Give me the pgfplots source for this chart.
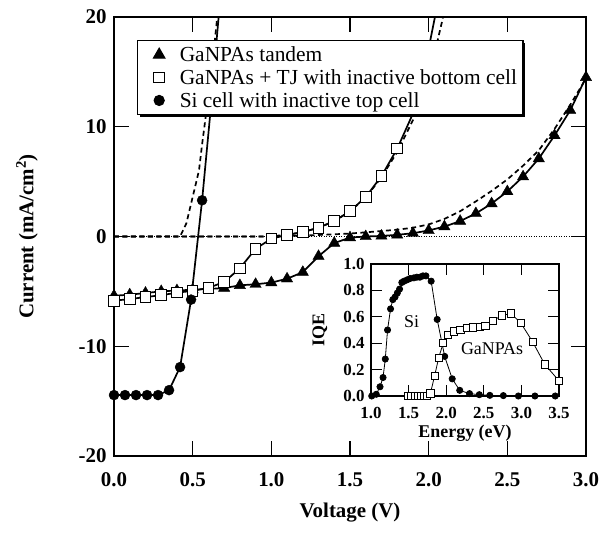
\documentclass[border=0pt]{standalone}
\usepackage{fontspec}
\setmainfont{Liberation Serif}
\usepackage{pgfplots}
\usepackage{pgfplotstable}
\pgfplotsset{compat=1.18}
\usetikzlibrary{shadows}

\pgfplotstableread{
V J
0.0 -5.40
0.1 -5.30
0.2 -5.15
0.3 -5.00
0.4 -4.92
0.5 -4.85
0.6 -4.78
0.7 -4.70
0.8 -4.45
0.9 -4.35
1.0 -4.20
1.1 -3.85
1.2 -3.25
1.3 -1.80
1.4 -0.60
1.5 -0.10
1.6 0.00
1.7 0.05
1.8 0.15
1.9 0.30
2.0 0.55
2.1 0.90
2.2 1.40
2.3 2.10
2.4 3.00
2.5 4.10
2.6 5.45
2.7 7.10
2.8 9.20
2.9 11.50
3.0 14.50
}\tandem

\pgfplotstableread{
V J
0.0 -5.85
0.1 -5.70
0.2 -5.52
0.3 -5.35
0.4 -5.12
0.5 -4.95
0.6 -4.68
0.7 -4.15
0.8 -2.90
0.9 -1.12
1.0 -0.20
1.1 0.15
1.2 0.40
1.3 0.80
1.4 1.40
1.5 2.30
1.6 3.60
1.7 5.50
1.8 8.00
}\topcell

\pgfplotstableread{
V J
0.00 -14.45
0.07 -14.45
0.14 -14.45
0.21 -14.45
0.28 -14.45
0.35 -14.00
0.42 -11.90
0.49 -5.75
0.56 3.30
}\sicell

\pgfplotstableread{
E Q
1.01 0.00
1.07 0.013
1.12 0.07
1.16 0.14
1.19 0.28
1.22 0.50
1.26 0.66
1.29 0.73
1.32 0.75
1.35 0.78
1.38 0.81
1.41 0.86
1.44 0.87
1.48 0.88
1.52 0.89
1.57 0.895
1.61 0.90
1.65 0.90
1.69 0.91
1.73 0.91
1.80 0.87
1.88 0.58
1.98 0.30
2.08 0.13
2.18 0.043
2.31 0.018
2.44 0.01
2.58 0.005
2.76 0.003
2.96 0.00
3.18 0.00
3.45 0.00
}\siqe

\pgfplotstableread{
E Q
1.49 0.00
1.53 0.00
1.58 0.00
1.62 0.00
1.66 0.00
1.70 0.00
1.74 0.00
1.79 0.02
1.845 0.15
1.90 0.29
1.96 0.40
2.02 0.46
2.10 0.49
2.19 0.50
2.27 0.515
2.36 0.52
2.45 0.525
2.52 0.53
2.62 0.57
2.74 0.61
2.86 0.625
2.99 0.555
3.15 0.41
3.31 0.24
3.50 0.115
}\ganpasqe

\begin{document}
\begin{tikzpicture}
\useasboundingbox (-114bp,-78bp) rectangle (492bp,456bp);
\begin{axis}[
  at={(0bp,0bp)}, anchor=south west,
  scale only axis, width=472bp, height=439bp,
  xmin=0, xmax=3, ymin=-20, ymax=20,
  xtick={0,0.5,1,1.5,2,2.5,3}, ytick={-20,-10,0,10,20},
  /pgf/number format/assume math mode=true,
  xticklabel={\pgfmathprintnumber[fixed,fixed zerofill,precision=1]{\tick}},
  tick align=inside, xtick pos=both, ytick pos=both,
  major tick length=15bp,
  axis line style={line width=1.7bp},
  every tick/.style={black, line width=1.3bp},
  tick label style={font=\bfseries\fontsize{21}{24}\selectfont},
  xticklabel style={yshift=-13bp},
  yticklabel style={xshift=-4bp},
  xlabel={Voltage (V)},
  ylabel={Current (mA/cm\textsuperscript{2})},
  every axis x label/.style={at={([yshift=-57bp]axis description cs:0.5,0)}, anchor=center, font=\bfseries\fontsize{21}{24}\selectfont},
  every axis y label/.style={at={([xshift=-87bp]axis description cs:0,0.5)}, anchor=center, rotate=90, font=\bfseries\fontsize{21}{24}\selectfont},
  legend style={at={(0.0487,0.9476)}, anchor=north west, draw=black, line width=1.2bp, fill=white,
    font=\fontsize{21.5}{23}\selectfont, row sep=2.5bp, inner xsep=4bp, inner ysep=4bp,
    drop shadow={shadow xshift=2.2bp, shadow yshift=-2.2bp, opacity=1, fill=black}},
  legend cell align=left,
  legend image code/.code={\draw[#1] plot coordinates {(17bp,0bp)}; \path (0bp,0bp) (35bp,0bp);},
  clip=true,
]
% zero line
\addplot[forget plot, black, line width=0.7bp, dash pattern=on 1bp off 1.5bp] coordinates {(0,0) (3,0)};
% dark curves (dashed)
\addplot[forget plot, black, line width=1.7bp, dash pattern=on 5bp off 3.5bp] coordinates {
(0,0) (0.42,0) (0.46,1.2) (0.50,3.6) (0.54,6.0) (0.56,8.4) (0.58,10.6) (0.62,15.0) (0.66,20.5)};
\addplot[forget plot, black, line width=1.7bp, dash pattern=on 5bp off 3.5bp] coordinates {
(0,0) (0.95,0) (1.0,0.03) (1.1,0.15) (1.2,0.4) (1.3,0.8) (1.4,1.4) (1.5,2.3) (1.6,3.55) (1.7,5.4) (1.8,7.7) (1.9,10.6) (2.0,14.4) (2.1,20.5)};
\addplot[forget plot, black, line width=1.7bp, dash pattern=on 5bp off 3.5bp] coordinates {
(0,0) (1.0,0) (1.2,0.08) (1.4,0.2) (1.5,0.27) (1.6,0.38) (1.7,0.5) (1.8,0.62) (1.9,0.8) (2.0,1.1) (2.1,1.6) (2.2,2.3) (2.3,3.2) (2.4,4.15) (2.5,5.2) (2.6,6.45) (2.7,7.85) (2.8,9.8) (2.9,12.0) (3.0,14.4)};
% solid lines
\addplot[forget plot, black, line width=1.7bp] table[x=V,y=J] {\tandem};
\addplot[forget plot, black, line width=1.7bp] table[x=V,y=J] {\topcell};
\addplot[forget plot, black, line width=1.7bp] coordinates {(1.8,8.0) (1.9,11.2) (1.97,15.0) (2.04,20.0) (2.05,21)};
\addplot[forget plot, black, line width=1.7bp] table[x=V,y=J] {\sicell};
\addplot[forget plot, black, line width=1.7bp] coordinates {(0.56,3.3) (0.61,10.9) (0.665,20.0) (0.67,21)};
% markers
\addplot[only marks, mark=triangle*, mark size=6.5bp, mark options={fill=black, draw=black}] table[x=V,y=J] {\tandem};
\addlegendentry{GaNPAs tandem}
\addplot[only marks, mark=square*, mark size=5.3bp, mark options={fill=white, draw=black, line width=1bp}] table[x=V,y=J] {\topcell};
\addlegendentry{GaNPAs + TJ with inactive bottom cell}
\addplot[only marks, mark=*, mark size=5bp, mark options={fill=black, draw=black}] table[x=V,y=J] {\sicell};
\addlegendentry{Si cell with inactive top cell}
\end{axis}

\begin{axis}[
  at={(257bp,60bp)}, anchor=south west,
  scale only axis, width=188bp, height=132bp,
  xmin=1, xmax=3.5, ymin=0, ymax=1,
  xtick={1,1.5,2,2.5,3,3.5}, ytick={0,0.2,0.4,0.6,0.8,1},
  /pgf/number format/assume math mode=true,
  xticklabel={\pgfmathprintnumber[fixed,fixed zerofill,precision=1]{\tick}},
  yticklabel={\pgfmathprintnumber[fixed,fixed zerofill,precision=1]{\tick}},
  tick align=inside, xtick pos=both, ytick pos=both,
  major tick length=11bp,
  axis line style={line width=1.1bp},
  every tick/.style={black, line width=0.9bp},
  tick label style={font=\bfseries\fontsize{17}{20}\selectfont},
  xticklabel style={yshift=-8bp},
  yticklabel style={xshift=-3bp},
  xlabel={Energy (eV)}, ylabel={IQE},
  every axis x label/.style={at={([yshift=-37bp]axis description cs:0.5,0)}, anchor=center, font=\bfseries\fontsize{18}{20}\selectfont},
  every axis y label/.style={at={([xshift=-51bp]axis description cs:0,0.5)}, anchor=center, rotate=90, font=\bfseries\fontsize{18}{20}\selectfont},
  axis background/.style={fill=white},
  clip=false,
]
\addplot[black, line width=0.8bp, mark=*, mark size=3.1bp, mark options={fill=black}] table[x=E,y=Q] {\siqe};
\addplot[black, line width=0.8bp, mark=square*, mark size=3.6bp, mark options={fill=white, draw=black, line width=0.8bp}] table[x=E,y=Q] {\ganpasqe};
\node[font=\fontsize{18}{20}\selectfont] at (axis cs:1.54,0.56) {Si};
\node[font=\fontsize{18}{20}\selectfont] at (axis cs:2.61,0.36) {GaNPAs};
\end{axis}
\end{tikzpicture}
\end{document}
